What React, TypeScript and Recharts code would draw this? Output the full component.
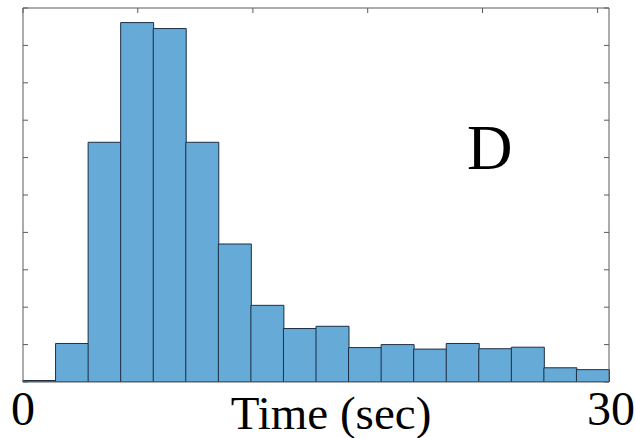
import React from "react";
import { BarChart, Bar, XAxis, YAxis, Label } from "recharts";

// 18 bins of 1.67 s spanning 0–30 s
const binLabels = [
  "0-1.7", "1.7-3.3", "3.3-5", "5-6.7", "6.7-8.3", "8.3-10",
  "10-11.7", "11.7-13.3", "13.3-15", "15-16.7", "16.7-18.3", "18.3-20",
  "20-21.7", "21.7-23.3", "23.3-25", "25-26.7", "26.7-28.3", "28.3-30",
];
const binCounts = [
  0.04, 1.03, 6.41, 9.61, 9.45, 6.41, 3.69, 2.05, 1.43,
  1.49, 0.92, 1.0, 0.88, 1.03, 0.89, 0.93, 0.38, 0.33,
];
const timeTicks = [0, 30];
const topTicks = [0, 3.33, 6.67, 10, 13.33, 16.67, 20, 23.33, 26.67, 30];
const yTicks = [0, 1, 2, 3, 4, 5, 6, 7, 8, 9, 10];
const panelLetter = "D";

const data = binLabels.map((bin, i) => ({ bin, count: binCounts[i] }));

const W = 635;
const H = 438;
const AXIS = "#5a5a5a";
const SERIF = "'Liberation Serif', 'Times New Roman', serif";
const blank = () => "";

export default function App() {
  return (
    <div style={{ position: "absolute", left: 0, top: 0, width: W, height: H, background: "#fff" }}>
      <BarChart
        width={W}
        height={H}
        data={data}
        margin={{ top: 8, right: 26, bottom: 55, left: 23 }}
        barCategoryGap={0}
        barGap={0}
      >
        <XAxis
          xAxisId="time"
          type="number"
          domain={[0, 30]}
          ticks={timeTicks}
          allowDataOverflow
          height={1}
          axisLine={{ stroke: AXIS, strokeWidth: 1 }}
          tickLine={false}
          tickSize={0}
          tickMargin={9}
          fontFamily={SERIF}
          tick={{ fontSize: 48, fill: "#000", style: { fontFamily: SERIF } }}
        >
          <Label
            value="Time (sec)"
            position="bottom"
            offset={13}
            dx={15}
            style={{ fontSize: 47, fill: "#000", fontFamily: SERIF }}
          />
        </XAxis>
        <XAxis xAxisId="bins" dataKey="bin" hide height={0} />
        <XAxis
          xAxisId="top"
          orientation="top"
          type="number"
          domain={[0, 30]}
          ticks={topTicks}
          allowDataOverflow
          height={1}
          mirror
          tickSize={5}
          axisLine={{ stroke: AXIS, strokeWidth: 1 }}
          tickLine={{ stroke: AXIS, strokeWidth: 1 }}
          tickFormatter={blank}
        />
        <YAxis
          yAxisId="left"
          domain={[0, 10]}
          ticks={yTicks}
          allowDataOverflow
          width={1}
          mirror
          tickSize={5}
          axisLine={{ stroke: AXIS, strokeWidth: 1 }}
          tickLine={{ stroke: AXIS, strokeWidth: 1 }}
          tickFormatter={blank}
        />
        <YAxis
          yAxisId="right"
          orientation="right"
          domain={[0, 10]}
          ticks={yTicks}
          allowDataOverflow
          width={1}
          mirror
          tickSize={5}
          axisLine={{ stroke: AXIS, strokeWidth: 1 }}
          tickLine={{ stroke: AXIS, strokeWidth: 1 }}
          tickFormatter={blank}
        />
        <Bar
          xAxisId="bins"
          yAxisId="left"
          dataKey="count"
          fill="#66aad7"
          stroke="#1e2f45"
          strokeWidth={1}
          isAnimationActive={false}
        />
      </BarChart>
      <svg
        width={W}
        height={H}
        style={{ position: "absolute", left: 0, top: 0, pointerEvents: "none" }}
      >
        <text x={467} y={169} fontSize={63} fontFamily={SERIF} fill="#000">
          {panelLetter}
        </text>
      </svg>
    </div>
  );
}
